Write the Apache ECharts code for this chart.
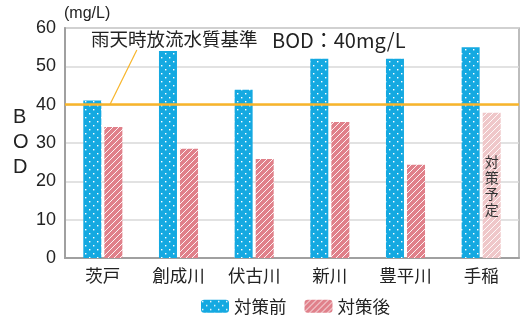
<!DOCTYPE html>
<html><head><meta charset="utf-8">
<script src="https://cdn.jsdelivr.net/npm/echarts@6/dist/echarts.min.js"></script>
<style>html,body{margin:0;padding:0;background:#fff}#c{width:522px;height:320px}</style>
</head><body><div id="c"></div>
<script>
const categories = ['茨戸','創成川','伏古川','新川','豊平川','手稲'];
const before = [41.1, 54.0, 43.9, 52.0, 52.0, 55.0];
const after = [34.2, 28.5, 25.8, 35.5, 24.3, 37.9];
const seriesNames = ['対策前','対策後'];
const yTicks = [0,10,20,30,40,50,60];
const standard = 40;
const annotationA = '雨天時放流水質基準';
const annotationB = 'BOD：40mg/L';
const plannedLabel = '対策予定';
const plannedIndex = 5;

function dots(bg){
  const c=document.createElement('canvas');c.width=8;c.height=8;
  const g=c.getContext('2d');g.fillStyle=bg;g.fillRect(0,0,8,8);
  g.fillStyle='#fff';g.fillRect(1,1,1.4,1.4);g.fillRect(5,5,1.4,1.4);
  return {image:c,repeat:'repeat'};
}
function stripes(bg){
  const s=6;const c=document.createElement('canvas');c.width=s;c.height=s;
  const g=c.getContext('2d');g.fillStyle=bg;g.fillRect(0,0,s,s);
  g.strokeStyle='rgba(255,255,255,0.9)';g.lineWidth=1;
  g.beginPath();g.moveTo(0,s);g.lineTo(s,0);g.moveTo(-s,s);g.lineTo(0,0);g.moveTo(s,2*s);g.lineTo(2*s,0);g.stroke();
  return {image:c,repeat:'repeat'};
}
const blue=dots('#14a9e1');
const pink=stripes('#e0808a');
const pinkLight=stripes('#efc7c9');

const chart=echarts.init(document.getElementById('c'));
const afterData=after.map((v,i)=>i===plannedIndex?{value:v,itemStyle:{color:pinkLight},label:{show:true,position:'inside',formatter:plannedLabel.split('').join('\n'),color:'#333',fontSize:14,lineHeight:16,fontFamily:'Noto Sans CJK JP'}}:v);
chart.setOption({
  animation:false,
  textStyle:{fontFamily:'Noto Sans CJK JP'},
  grid:{left:65,right:3,top:28,bottom:62,show:true,borderColor:'#a8a8a8',borderWidth:1.5},
  legend:{bottom:0,left:196,itemWidth:28,itemHeight:13,itemGap:18,
    textStyle:{fontSize:17.5,color:'#222',fontFamily:'Noto Sans CJK JP'},data:seriesNames},
  xAxis:{type:'category',data:categories,axisTick:{show:false},
    axisLine:{lineStyle:{color:'#a0a0a0',width:2}},
    axisLabel:{fontSize:17.5,color:'#222',margin:9,fontFamily:'Noto Sans CJK JP'}},
  yAxis:{type:'value',min:0,max:60,interval:10,
    axisLine:{show:true,lineStyle:{color:'#a0a0a0',width:2}},axisTick:{show:false},
    splitLine:{lineStyle:{color:'#d8d8d8',width:1.5}},
    axisLabel:{fontSize:18,color:'#222',margin:9,fontFamily:'Liberation Sans'}},
  series:[
    {name:seriesNames[0],type:'bar',data:before,barWidth:18,barGap:'17%',itemStyle:{color:blue},
     markLine:{symbol:'none',silent:true,label:{show:false},lineStyle:{color:'#f8b52a',width:2.5,type:'solid'},data:[{yAxis:standard}]}},
    {name:seriesNames[1],type:'bar',data:afterData,barWidth:18,itemStyle:{color:pink}}
  ]
});
const p0=chart.convertToPixel({xAxisIndex:0,yAxisIndex:0},[0,standard]);
const top60=chart.convertToPixel({yAxisIndex:0},60);
chart.setOption({graphic:[
  {type:'line',shape:{x1:p0[0]+7,y1:p0[1],x2:p0[0]+34,y2:top60+22},style:{stroke:'#f8b52a',lineWidth:1.2}},
  {type:'text',left:91,top:top60+2,style:{text:annotationA,fontSize:18.5,fill:'#222',fontFamily:'Noto Sans CJK JP',backgroundColor:'#fff'}},
  {type:'text',left:272,top:top60+2,style:{text:annotationB,fontSize:20,fill:'#222',fontFamily:'Noto Sans CJK JP'}},
  {type:'text',left:64,top:top60-22,style:{text:'(mg/L)',fontSize:16,fill:'#222',fontFamily:'Liberation Sans'}},
  {type:'text',left:13,top:105,style:{text:'B\nO\nD',fontSize:20,lineHeight:25,fill:'#222',fontFamily:'Liberation Sans',align:'center'}}
]});
</script></body></html>
